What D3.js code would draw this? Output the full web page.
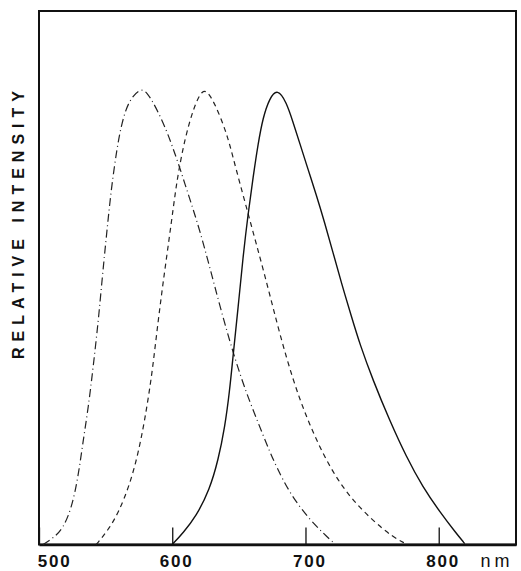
<!DOCTYPE html>
<html>
<head>
<meta charset="utf-8">
<script src="https://cdn.jsdelivr.net/npm/d3@7"></script>
<style>
  html, body { margin: 0; padding: 0; background: #fff; }
  svg { display: block; }
</style>
</head>
<body>
<svg id="chart" width="521" height="571"></svg>
<script>
// ---- data ----
const tickValues = [500, 600, 700, 800];
const xLabel = "nm";
const yLabel = "RELATIVE INTENSITY";

const seriesA = [ // dash-dot, peak ~576 nm
  [503, 0], [510.7, 0.014], [518, 0.035], [524.5, 0.08], [529.5, 0.15], [533, 0.225],
  [537, 0.3], [540.7, 0.39], [544.5, 0.49], [547, 0.57], [549.5, 0.645], [552, 0.717],
  [554.5, 0.785], [558.3, 0.865], [562, 0.924], [567.5, 0.975], [576, 1.0], [580.7, 0.994],
  [588, 0.958], [596, 0.906], [600.7, 0.868], [605.7, 0.826], [610.7, 0.78], [615.7, 0.735],
  [620.7, 0.688], [628, 0.61], [636, 0.52], [645.7, 0.42], [653, 0.355], [658, 0.315],
  [663, 0.278], [668, 0.241], [673, 0.205], [678, 0.172], [688, 0.113], [703, 0.054],
  [718, 0.012], [721, 0.004]
];
const seriesB = [ // short dashes, peak ~623 nm
  [543, 0], [552, 0.032], [559.5, 0.069], [568, 0.13], [574.5, 0.2], [579.5, 0.275],
  [584.5, 0.367], [588, 0.455], [592, 0.55], [596, 0.635], [599.5, 0.71], [602, 0.765],
  [604.5, 0.815], [609.5, 0.89], [615.7, 0.955], [622.5, 1.0], [628, 0.99], [636, 0.94],
  [642, 0.89], [645.7, 0.848], [650.7, 0.793], [657, 0.725], [663, 0.66], [669.5, 0.59],
  [676, 0.515], [685.7, 0.408], [695.7, 0.317], [705.7, 0.245], [718, 0.17], [733, 0.104],
  [750.7, 0.052], [765.7, 0.016], [774.5, 0.003]
];
const seriesC = [ // solid, peak ~679 nm
  [600, 0], [608, 0.025], [618, 0.062], [628, 0.12], [634.5, 0.185], [639.5, 0.258],
  [643, 0.335], [645.7, 0.415], [649.5, 0.521], [653, 0.628], [657, 0.727], [660.7, 0.806],
  [664.5, 0.88], [668, 0.935], [673, 0.979], [679, 1.0], [685.7, 0.97], [690.7, 0.926],
  [695.7, 0.88], [702, 0.822], [708, 0.768], [714.5, 0.705], [720.7, 0.64], [727, 0.573],
  [734.5, 0.5], [740.7, 0.44], [750.7, 0.36], [763, 0.273], [775.7, 0.192], [788, 0.126],
  [800.7, 0.072], [813, 0.025], [819.5, 0.002]
];

// ---- layout ----
const mLeft = 39, mRight = 516, mTop = 11, mBottom = 544.5;
const svg = d3.select("#chart");

const x = d3.scaleLinear().domain([500, 858]).range([mLeft, mRight]);
const y = d3.scaleLinear().domain([0, 1.17]).range([mBottom, mTop]);

// frame
svg.append("rect")
  .attr("x", mLeft).attr("y", mTop)
  .attr("width", mRight - mLeft).attr("height", mBottom - mTop)
  .attr("fill", "none").attr("stroke", "#111").attr("stroke-width", 2);

// bottom axis
const xAxis = d3.axisBottom(x).tickValues(tickValues).tickSize(-17).tickSizeOuter(0)
  .tickFormat(d3.format("d"));
const gx = svg.append("g").attr("transform", `translate(0,${mBottom})`).call(xAxis);
gx.select(".domain").attr("stroke", "#111").attr("stroke-width", 2.6);
gx.selectAll(".tick line").attr("stroke", "#111").attr("stroke-width", 1.3);
gx.selectAll(".tick text")
  .attr("y", 22)
  .attr("dy", null)
  .attr("dx", d => d === 500 ? 15 : 4)
  .attr("fill", "#111")
  .style("font-family", "'Liberation Sans', Arial, sans-serif")
  .style("font-size", "17px")
  .style("font-weight", "bold")
  .style("letter-spacing", "1.8px");

svg.append("text")
  .attr("x", 497).attr("y", mBottom + 22)
  .attr("text-anchor", "middle")
  .attr("fill", "#111")
  .style("font-family", "'Liberation Sans', Arial, sans-serif")
  .style("font-size", "18px")
  .style("letter-spacing", "4px")
  .text(xLabel);

// y label
svg.append("text")
  .attr("transform", `translate(24,${222}) rotate(-90)`)
  .attr("text-anchor", "middle")
  .attr("fill", "#111")
  .style("font-family", "'Liberation Sans', Arial, sans-serif")
  .style("font-size", "16px")
  .style("font-weight", "bold")
  .style("letter-spacing", "6px")
  .text(yLabel);

// curves
const line = d3.line().x(d => x(d[0])).y(d => y(d[1])).curve(d3.curveBasis);
const g = svg.append("g").attr("fill", "none");
g.append("path").datum(seriesA).attr("d", line)
  .attr("stroke", "#222").attr("stroke-width", 1.2).attr("stroke-dasharray", "8,3.5,1,3.5");
g.append("path").datum(seriesB).attr("d", line)
  .attr("stroke", "#222").attr("stroke-width", 1.2).attr("stroke-dasharray", "5,4");
g.append("path").datum(seriesC).attr("d", line)
  .attr("stroke", "#111").attr("stroke-width", 1.4);
</script>
</body>
</html>
